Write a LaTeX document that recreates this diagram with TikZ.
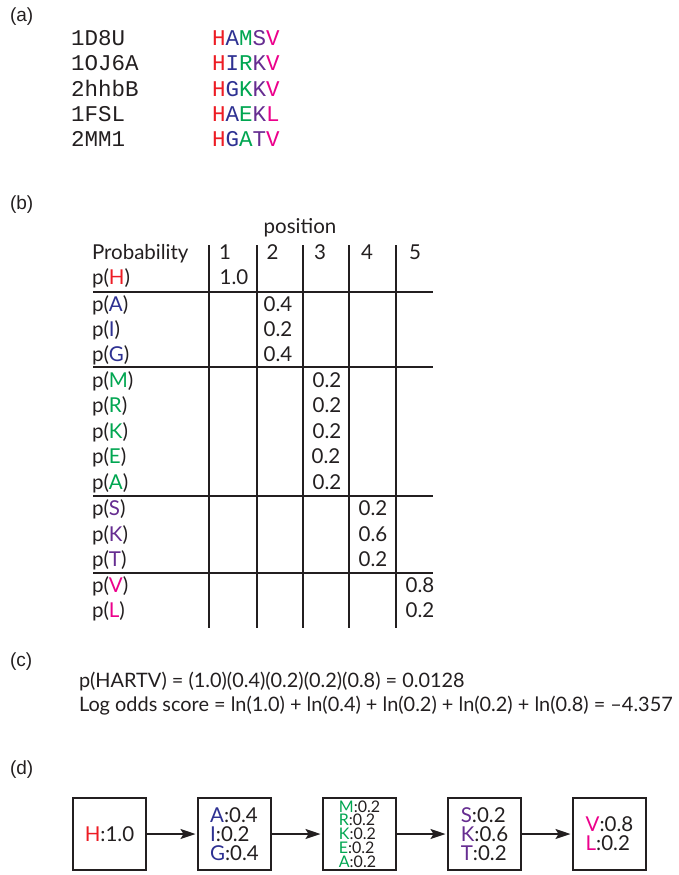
\documentclass[tikz,border=0pt]{standalone}
\usepackage{fontspec}
\setmainfont{Lato}
\newfontfamily\labfont{Liberation Sans}
\newfontfamily\monofont{Liberation Mono}
\usetikzlibrary{arrows.meta}
\definecolor{cred}{HTML}{ED1C24}
\definecolor{cblue}{HTML}{2E3192}
\definecolor{cgreen}{HTML}{00A651}
\definecolor{cpurple}{HTML}{662D91}
\definecolor{cmag}{HTML}{EC008C}
\definecolor{ink}{HTML}{231F20}
\newcommand{\colR}[1]{\textcolor{cred}{#1}}
\newcommand{\colB}[1]{\textcolor{cblue}{#1}}
\newcommand{\colG}[1]{\textcolor{cgreen}{#1}}
\newcommand{\colP}[1]{\textcolor{cpurple}{#1}}
\newcommand{\colM}[1]{\textcolor{cmag}{#1}}
\begin{document}
\begin{tikzpicture}[x=1pt,y=-1pt,
  every node/.style={inner sep=0pt, outer sep=0pt, text=ink},
  lab/.style={font=\labfont\fontsize{19}{22}\selectfont, anchor=west},
  mono/.style={font=\monofont\fontsize{22.5}{26}\selectfont, anchor=west},
  tab/.style={font=\fontsize{20.5}{24}\selectfont, text height=15pt, text depth=5pt},
  rowlab/.style={tab, anchor=west},
  val/.style={tab},
  rule/.style={draw=ink, line width=1.3pt},
  box/.style={draw=ink, line width=2pt, minimum width=73pt, minimum height=72pt,
    align=left, fill=white, outer sep=1pt, font=\fontsize{20.5}{19}\selectfont},
  arr/.style={-{Stealth[length=15pt,width=10pt,inset=3pt]}, line width=1.6pt, draw=ink, shorten >=1.5pt},
  txt/.style={font=\fontsize{19.9}{24}\selectfont, anchor=west}]
\useasboundingbox[fill=white] (0,0) rectangle (679,875);

% (a)
\node[lab] (la) at (10,17) {(a)};
\node[mono] (n1) at (71,38.3) {1D8U};
\node[mono] (n2) at (71,63.5) {1OJ6A};
\node[mono] (n3) at (71,88.7) {2hhbB};
\node[mono] (n4) at (71,113.9) {1FSL};
\node[mono] (n5) at (71,139.1) {2MM1};
\node[mono] (s1) at (212,38.3) {\colR{H}\colB{A}\colG{M}\colP{S}\colM{V}};
\node[mono] (s2) at (212,63.5) {\colR{H}\colB{I}\colG{R}\colP{K}\colM{V}};
\node[mono] (s3) at (212,88.7) {\colR{H}\colB{G}\colG{K}\colP{K}\colM{V}};
\node[mono] (s4) at (212,113.9) {\colR{H}\colB{A}\colG{E}\colP{K}\colM{L}};
\node[mono] (s5) at (212,139.1) {\colR{H}\colB{G}\colG{A}\colP{T}\colM{V}};

% (b)
\node[lab] (lb) at (10,205) {(b)};
\node[tab] (pos) at (300,228) {position};
\node[rowlab] (hp) at (92,254) {Probability};
\node[tab] (h1) at (225,254) {1};
\node[tab] (h2) at (272.5,254) {2};
\node[tab] (h3) at (320,254) {3};
\node[tab] (h4) at (367,254) {4};
\node[tab] (h5) at (415,254) {5};

\foreach \x in {209,257,303,349,396} \draw[rule] (\x,245) -- (\x,628);
\foreach \y in {292,367,496,573} \draw[rule] (93,\y) -- (433,\y);

\node[rowlab] (r1) at (92,279) {p(\colR{H})};
\node[val] (v1) at (234,279) {1.0};
\node[rowlab] (r2) at (92,306) {p(\colB{A})};
\node[val] (v2) at (278,306) {0.4};
\node[rowlab] (r3) at (92,331) {p(\colB{I})};
\node[val] (v3) at (278,331) {0.2};
\node[rowlab] (r4) at (92,356) {p(\colB{G})};
\node[val] (v4) at (278,356) {0.4};
\node[rowlab] (r5) at (92,382) {p(\colG{M})};
\node[val] (v5) at (327,382) {0.2};
\node[rowlab] (r6) at (92,407) {p(\colG{R})};
\node[val] (v6) at (327,407) {0.2};
\node[rowlab] (r7) at (92,433) {p(\colG{K})};
\node[val] (v7) at (327,433) {0.2};
\node[rowlab] (r8) at (92,458) {p(\colG{E})};
\node[val] (v8) at (326,458) {0.2};
\node[rowlab] (r9) at (92,484) {p(\colG{A})};
\node[val] (v9) at (327,484) {0.2};
\node[rowlab] (r10) at (92,510) {p(\colP{S})};
\node[val] (v10) at (373,510) {0.2};
\node[rowlab] (r11) at (92,536) {p(\colP{K})};
\node[val] (v11) at (373,536) {0.6};
\node[rowlab] (r12) at (92,561) {p(\colP{T})};
\node[val] (v12) at (373,561) {0.2};
\node[rowlab] (r13) at (92,587) {p(\colM{V})};
\node[val] (v13) at (420,587) {0.8};
\node[rowlab] (r14) at (92,612) {p(\colM{L})};
\node[val] (v14) at (420,612) {0.2};

% (c)
\node[lab] (lc) at (10,662) {(c)};
\node[txt] (c1) at (79,681) {p(HARTV) = (1.0)(0.4)(0.2)(0.2)(0.8) = 0.0128};
\node[txt] (c2) at (79,706) {Log odds score = ln(1.0) + ln(0.4) + ln(0.2) + ln(0.2) + ln(0.8) = –4.357};

% (d)
\node[lab] (ld) at (10,770) {(d)};
\node[box] (b1) at (109.5,834) {\colR{H}:1.0};
\node[box] (b2) at (234.5,834) {\colB{A}:0.4\\\colB{I}:0.2\\\colB{G}:0.4};
\node[box, font=\fontsize{16}{13.8}\selectfont] (b3) at (359.5,834)
  {\colG{M}:0.2\\\colG{R}:0.2\\\colG{K}:0.2\\\colG{E}:0.2\\\colG{A}:0.2};
\node[box] (b4) at (484.5,834) {\colP{S}:0.2\\\colP{K}:0.6\\\colP{T}:0.2};
\node[box] (b5) at (609.5,834) {\colM{V}:0.8\\\colM{L}:0.2};
\draw[arr] (b1) -- (b2);
\draw[arr] (b2) -- (b3);
\draw[arr] (b3) -- (b4);
\draw[arr] (b4) -- (b5);
\end{tikzpicture}
\end{document}
